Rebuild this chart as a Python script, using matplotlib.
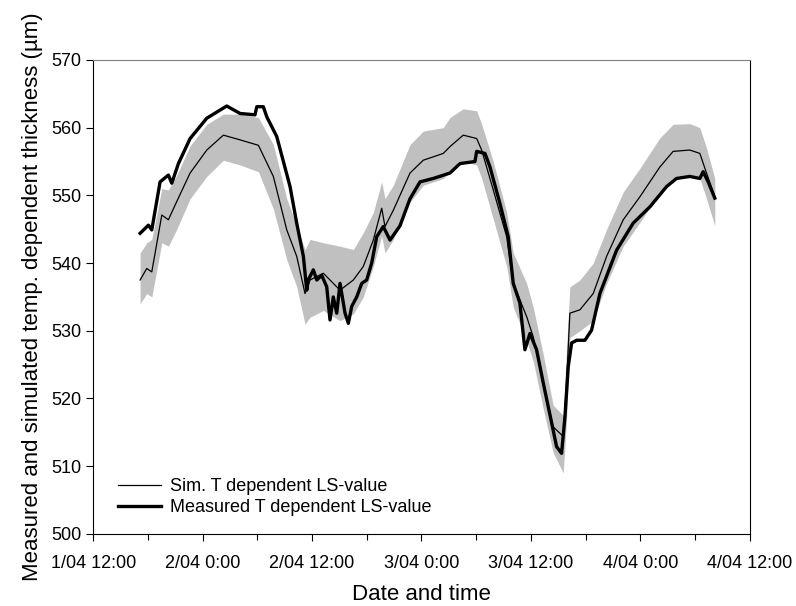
import matplotlib
matplotlib.use('Agg')
import matplotlib.pyplot as plt
from matplotlib.ticker import MultipleLocator

plt.rcParams['font.family'] = ['Liberation Sans', 'DejaVu Sans']

# time axis: hours since 1/04 12:00
t_meas = [5.15, 6.06, 6.43, 7.34, 8.25, 8.62, 9.35, 10.63, 12.46, 14.28,
          14.65, 16.11, 17.75, 17.94, 18.66, 19.04, 20.13, 21.59, 22.32, 23.05,
          23.42, 23.59, 24.14, 24.52, 25.06, 25.61, 25.97, 26.33, 26.71, 27.07,
          27.62, 27.98, 28.35, 28.90, 29.45, 29.99, 30.54, 31.09, 31.81, 32.55,
          33.64, 34.74, 35.84, 37.29, 39.12, 40.22, 41.86, 42.05, 42.96, 43.51,
          44.60, 45.51, 46.06, 46.79, 47.34, 47.89, 48.62, 49.35, 50.27, 50.81,
          51.36, 51.73, 52.09, 52.46, 53.01, 53.92, 54.65, 55.56, 57.39, 59.21,
          61.04, 62.87, 63.96, 65.42, 66.52, 66.88, 67.43, 68.16]
measured = [544.4, 545.6, 544.9, 552.0, 553.0, 551.8, 554.7, 558.4, 561.4, 562.9,
            563.2, 562.1, 561.9, 563.1, 563.1, 561.6, 558.7, 551.3, 545.9, 541.0,
            536.0, 537.5, 539.0, 537.5, 538.2, 536.5, 531.6, 535.0, 532.6, 537.0,
            532.6, 531.1, 533.6, 535.0, 537.0, 537.5, 540.0, 543.9, 545.4, 543.4,
            545.5, 549.5, 552.0, 552.5, 553.3, 554.7, 555.0, 556.5, 556.2, 554.2,
            548.8, 543.9, 537.0, 534.1, 527.2, 529.6, 527.2, 522.3, 516.4, 512.9,
            511.9, 517.3, 524.7, 528.2, 528.6, 528.6, 530.1, 535.5, 541.9, 545.9,
            548.3, 551.3, 552.5, 552.8, 552.5, 553.5, 552.0, 549.6]

t_sim = [5.15, 5.88, 6.43, 7.53, 8.25, 9.17, 10.63, 12.46, 14.28, 16.11,
         18.12, 19.76, 21.23, 22.32, 23.23, 23.78, 25.24, 27.07, 28.53, 29.62,
         30.72, 31.64, 32.0, 32.91, 34.74, 36.2, 38.39, 39.12, 40.58, 42.05,
         42.6, 43.87, 45.34, 46.06, 47.53, 48.25, 49.35, 50.44, 51.54, 51.91,
         52.27, 53.37, 54.83, 56.30, 58.12, 59.95, 62.14, 63.59, 65.42, 66.52,
         67.25, 68.16]
simulated = [537.5, 539.2, 538.7, 547.1, 546.4, 549.1, 553.3, 556.7, 558.9, 558.2,
             557.4, 552.8, 544.9, 541.0, 535.5, 537.5, 538.5, 536.0, 537.5, 539.5,
             543.4, 548.1, 545.4, 547.8, 553.3, 555.2, 556.2, 557.2, 558.9, 558.4,
             556.7, 550.8, 543.9, 537.0, 532.1, 529.1, 522.3, 515.8, 514.4, 522.3,
             532.6, 533.1, 535.5, 541.0, 546.4, 549.8, 554.2, 556.5, 556.7, 556.2,
             553.3, 549.8]
band_hi = [541.5, 543.0, 543.5, 551.0, 550.8, 553.0, 557.3, 560.5, 562.0, 562.0,
           561.5, 557.5, 549.5, 545.5, 542.0, 543.5, 543.0, 542.5, 542.0, 544.5,
           547.5, 552.0, 549.5, 551.5, 557.5, 559.5, 560.0, 561.5, 562.8, 562.5,
           560.5, 555.0, 547.5, 541.5, 537.0, 533.5, 526.5, 519.0, 517.5, 527.5,
           536.5, 537.5, 540.0, 545.0, 550.5, 554.0, 558.5, 560.5, 560.6, 560.0,
           557.0, 552.5]
band_lo = [534.0, 535.5, 535.0, 543.0, 542.5, 545.0, 549.5, 552.8, 555.2, 554.5,
           553.5, 548.0, 540.5, 536.5, 531.0, 532.0, 533.0, 531.5, 532.5, 535.0,
           539.5, 544.0, 541.5, 543.5, 549.0, 551.5, 552.5, 553.5, 555.0, 554.5,
           552.5, 546.5, 539.5, 533.5, 528.5, 525.5, 518.5, 512.0, 509.0, 517.0,
           529.0, 530.0, 531.5, 537.0, 542.5, 546.0, 550.5, 552.5, 552.8, 552.5,
           549.5, 545.5]

tick_hours = [0, 12, 24, 36, 48, 60, 72]
tick_labels = ['1/04 12:00', '2/04 0:00', '2/04 12:00', '3/04 0:00',
               '3/04 12:00', '4/04 0:00', '4/04 12:00']

fig = plt.figure(figsize=(7.96, 6.06), dpi=100)
ax = fig.add_axes([0.117, 0.119, 0.825, 0.782])

ax.fill_between(t_sim, band_lo, band_hi, color='#c0c0c0', linewidth=0)
ax.plot(t_sim, simulated, color='black', linewidth=0.9, label='Sim. T dependent LS-value')
ax.plot(t_meas, measured, color='black', linewidth=2.4, label='Measured T dependent LS-value')

ax.set_xlim(0, 72)
ax.set_ylim(500, 570)
ax.set_xticks(tick_hours)
ax.set_xticklabels(tick_labels)
ax.xaxis.set_minor_locator(MultipleLocator(6))
ax.yaxis.set_major_locator(MultipleLocator(10))
ax.tick_params(axis='both', which='major', direction='out', length=5, labelsize=13, width=0.8)
ax.tick_params(axis='x', which='minor', direction='out', length=4, width=0.8)
ax.tick_params(axis='x', pad=10)

ax.spines['top'].set_color('#808080')

ax.set_xlabel('Date and time', fontsize=16, labelpad=9)
ax.set_ylabel('Measured and simulated temp. dependent thickness (µm)', fontsize=16, labelpad=6)

ax.legend(loc='upper left', bbox_to_anchor=(0.038, 0.118), frameon=False, fontsize=13,
          handlelength=2.4, handletextpad=0.45, labelspacing=0.25,
          borderpad=0, borderaxespad=0)

fig.savefig('out.png', dpi=100)
